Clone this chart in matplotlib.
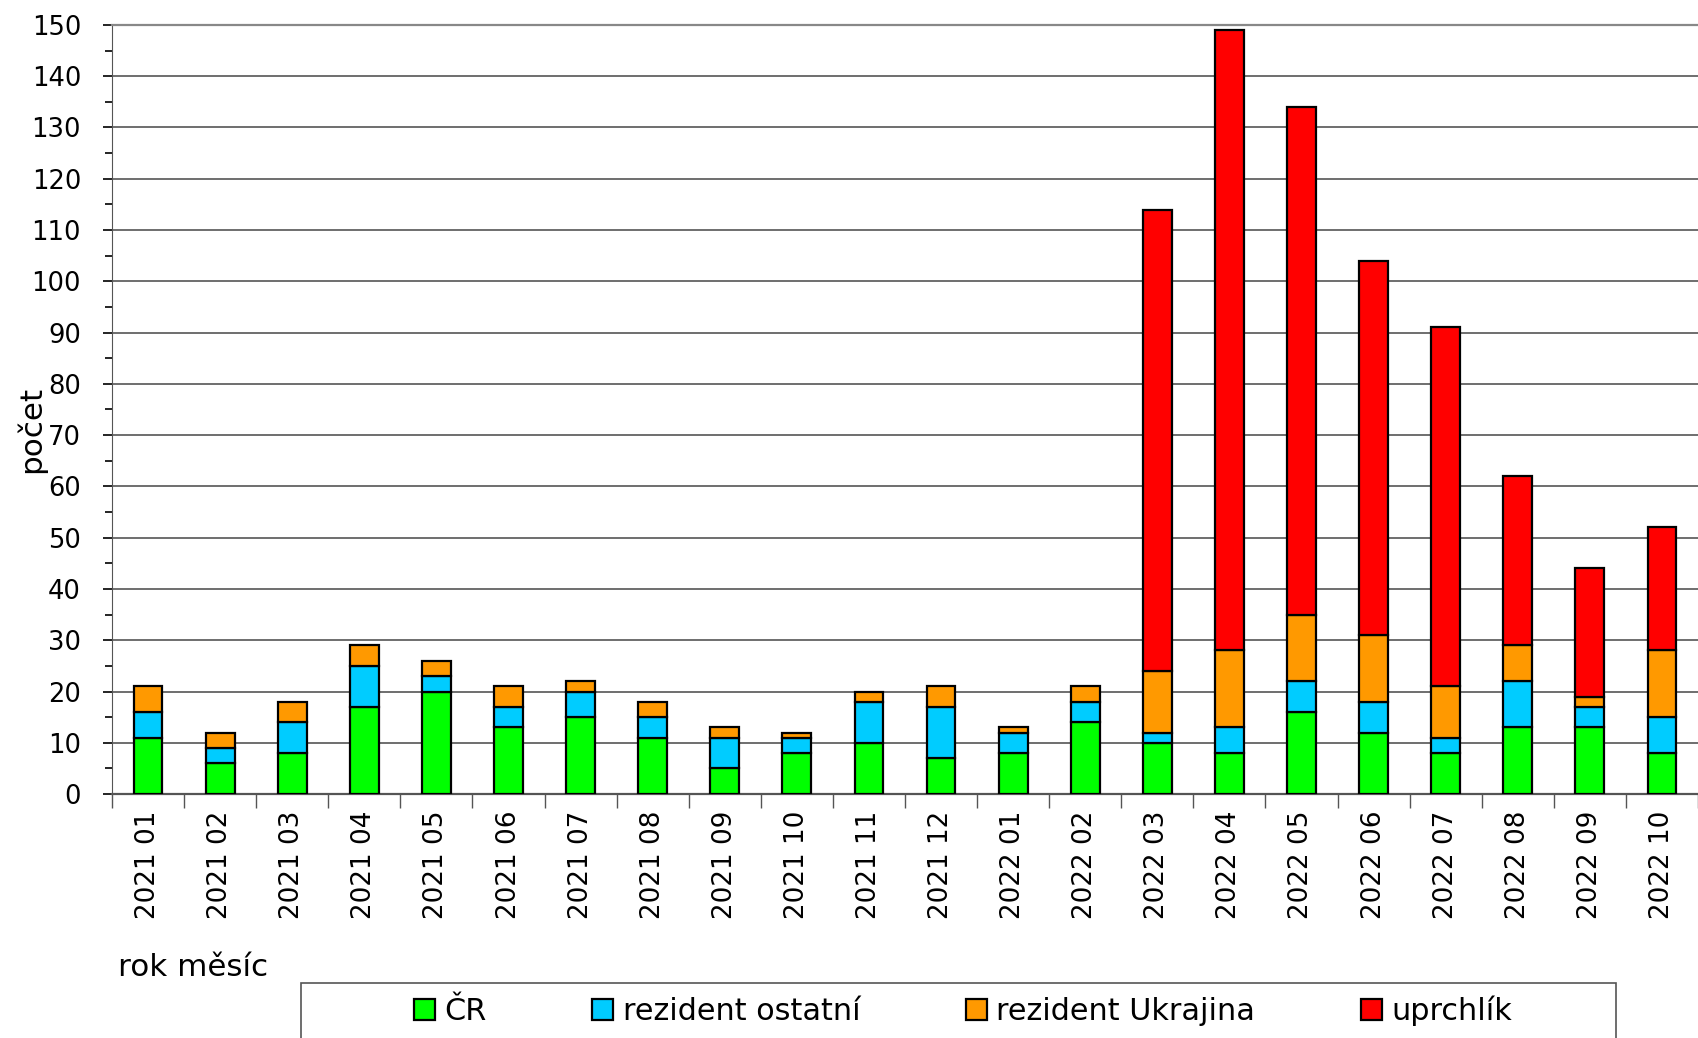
import numpy as np
import matplotlib.pyplot as plt
from matplotlib.patches import Rectangle
from matplotlib.ticker import MultipleLocator

# Data
mesice = ['2021 01', '2021 02', '2021 03', '2021 04', '2021 05', '2021 06',
          '2021 07', '2021 08', '2021 09', '2021 10', '2021 11', '2021 12',
          '2022 01', '2022 02', '2022 03', '2022 04', '2022 05', '2022 06',
          '2022 07', '2022 08', '2022 09', '2022 10']
cr = [11, 6, 8, 17, 20, 13, 15, 11, 5, 8, 10, 7, 8, 14, 10, 8, 16, 12, 8, 13, 13, 8]
rezident_ostatni = [5, 3, 6, 8, 3, 4, 5, 4, 6, 3, 8, 10, 4, 4, 2, 5, 6, 6, 3, 9, 4, 7]
rezident_ukrajina = [5, 3, 4, 4, 3, 4, 2, 3, 2, 1, 2, 4, 1, 3, 12, 15, 13, 13, 10, 7, 2, 13]
uprchlik = [0, 0, 0, 0, 0, 0, 0, 0, 0, 0, 0, 0, 0, 0, 90, 121, 99, 73, 70, 33, 25, 24]

serie = [('ČR', cr, '#00ff00'),
         ('rezident ostatní', rezident_ostatni, '#00ccff'),
         ('rezident Ukrajina', rezident_ukrajina, '#ff9900'),
         ('uprchlík', uprchlik, '#ff0000')]

plt.rcParams['font.family'] = ['DejaVu Sans']
fig = plt.figure(figsize=(16.98, 10.38), dpi=100)
ax = fig.add_axes([112 / 1698, 0.235, 1 - 112 / 1698, 0.741])

x = np.arange(len(mesice))
spodek = np.zeros(len(mesice))
handles = []
for nazev, hodnoty, barva in serie:
    h = np.array(hodnoty, dtype=float)
    maska = h > 0
    b = ax.bar(x[maska], h[maska], bottom=spodek[maska], width=0.4,
               color=barva, edgecolor='black', linewidth=1.6, zorder=3, label=nazev)
    handles.append(b)
    spodek += h

ax.set_ylim(0, 150)
ax.set_xlim(-0.5, 21.37)
ax.yaxis.set_major_locator(MultipleLocator(10))
ax.yaxis.set_minor_locator(MultipleLocator(5))
ax.grid(axis='y', color='#555555', linewidth=1.2, zorder=0)
ax.set_xticks(x)
ax.set_xticklabels(mesice, rotation=90)
ax.set_xticks(np.arange(-0.5, len(mesice), 1), minor=True)
ax.tick_params(axis='x', which='major', length=0, pad=12, labelsize=18.9)
ax.tick_params(axis='x', which='minor', length=10, width=1, color='#555555')
ax.tick_params(axis='y', which='major', length=6.5, width=1.2, labelsize=18.5, pad=15.8)
ax.tick_params(axis='y', which='minor', length=5, width=1.2)
ax.spines['right'].set_visible(False)
ax.spines['top'].set_color('#888888')
ax.spines['top'].set_linewidth(1.6)
ax.spines['left'].set_color('#555555')
ax.spines['bottom'].set_color('#555555')
ax.spines['bottom'].set_linewidth(1.6)

fig.text(0.018, 0.586, 'počet', rotation=90, fontsize=22.3, ha='center', va='center')
fig.text(0.0695, 0.068, 'rok měsíc', fontsize=22.3, ha='left', va='center')

# legend frame
fig.patches.append(Rectangle((301 / 1698, -0.05), 1315 / 1698, 0.05 + 1 - 983 / 1038,
                             transform=fig.transFigure, fill=False,
                             edgecolor='#555555', linewidth=1.2))
fig.legend(handles=handles, loc='center', bbox_to_anchor=(963 / 1698, 1 - 1011 / 1038),
           ncol=4, frameon=False, fontsize=21.8, handlelength=0.7, handleheight=0.7,
           handletextpad=0.3, columnspacing=3.5)

fig.savefig('out.png', dpi=100)
